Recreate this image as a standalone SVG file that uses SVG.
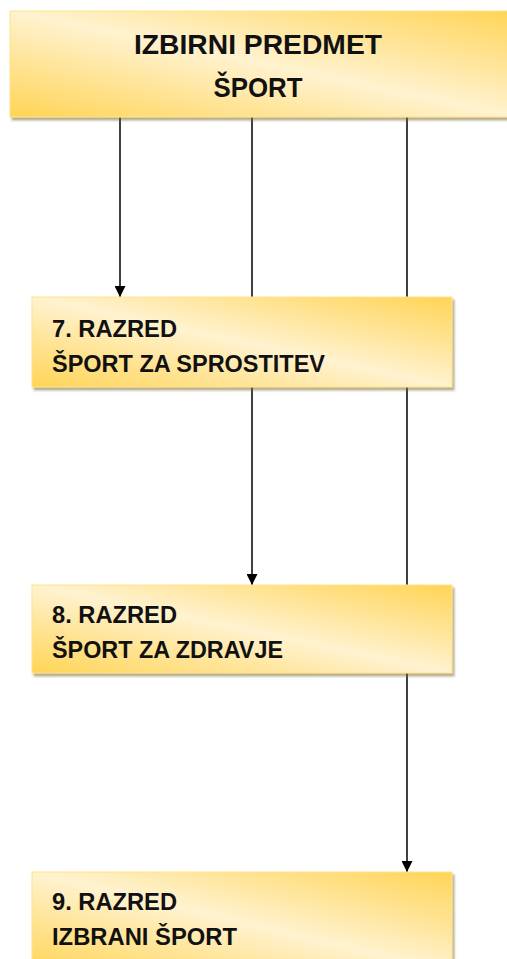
<svg xmlns="http://www.w3.org/2000/svg" width="507" height="959" viewBox="0 0 507 959">
<defs>
<linearGradient id="g" x1="0" y1="1" x2="1" y2="0">
<stop offset="0" stop-color="#FFD455"/>
<stop offset="0.5" stop-color="#FFF2CF"/>
<stop offset="1" stop-color="#FFD455"/>
</linearGradient>
<filter id="sh" x="-5%" y="-10%" width="115%" height="130%">
<feDropShadow dx="2" dy="3" stdDeviation="1.2" flood-color="#7a6a30" flood-opacity="0.55"/>
</filter>
<marker id="ah" viewBox="0 0 10 10" refX="10" refY="5" markerWidth="11" markerHeight="11" markerUnits="userSpaceOnUse" orient="auto">
<path d="M0,0 L10,5 L0,10 z" fill="#000"/>
</marker>
<style>
.box{fill:url(#g);stroke:#FFE38A;stroke-width:1;filter:url(#sh)}
.t{font-family:"Liberation Sans",Arial,sans-serif;font-weight:bold;fill:#111}
.c{stroke:#000;stroke-width:1.5;fill:none}
</style>
</defs>
<g id="connectors">
<line class="c" x1="120" y1="117" x2="120" y2="297" marker-end="url(#ah)"/>
<line class="c" x1="252" y1="117" x2="252" y2="585" marker-end="url(#ah)"/>
<line class="c" x1="407" y1="117" x2="407" y2="872" marker-end="url(#ah)"/>
</g>
<g id="node-top">
<rect class="box" x="10" y="11" width="510" height="106"/>
<text class="t" x="258" y="54" font-size="28" text-anchor="middle" textLength="248" lengthAdjust="spacingAndGlyphs">IZBIRNI PREDMET</text>
<text class="t" x="258" y="97" font-size="28" text-anchor="middle" textLength="89" lengthAdjust="spacingAndGlyphs">ŠPORT</text>
</g>
<g id="node-7">
<rect class="box" x="32" y="297" width="420" height="90"/>
<text class="t" x="52" y="337" font-size="23.5" textLength="125" lengthAdjust="spacingAndGlyphs">7. RAZRED</text>
<text class="t" x="52" y="372" font-size="23.5" textLength="273" lengthAdjust="spacingAndGlyphs">ŠPORT ZA SPROSTITEV</text>
</g>
<g id="node-8">
<rect class="box" x="32" y="585" width="420" height="88"/>
<text class="t" x="52" y="623" font-size="23.5" textLength="125" lengthAdjust="spacingAndGlyphs">8. RAZRED</text>
<text class="t" x="52" y="658" font-size="23.5" textLength="231" lengthAdjust="spacingAndGlyphs">ŠPORT ZA ZDRAVJE</text>
</g>
<g id="node-9">
<rect class="box" x="32" y="872" width="420" height="100"/>
<text class="t" x="52" y="910" font-size="23.5" textLength="125" lengthAdjust="spacingAndGlyphs">9. RAZRED</text>
<text class="t" x="52" y="945" font-size="23.5" textLength="185" lengthAdjust="spacingAndGlyphs">IZBRANI ŠPORT</text>
</g>
</svg>
